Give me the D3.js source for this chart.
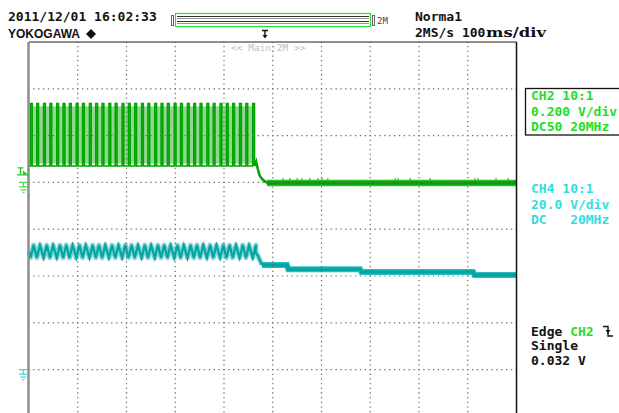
<!DOCTYPE html>
<html><head><meta charset="utf-8">
<script src="https://cdn.jsdelivr.net/npm/d3@7"></script>
<style>
html,body{margin:0;padding:0;background:#fff;overflow:hidden;}
svg{display:block;}
text{font-family:"DejaVu Sans Mono",monospace;white-space:pre;}
</style></head><body>
<svg id="c" width="619" height="413"></svg>
<script>
// ---------------- data ----------------
const timeDomainMs = [0, 1000];          // 100 ms/div x 10 div
const divDomain = [4, -4];               // 8 vertical divisions
const xGridMs = [100, 200, 300, 400, 500, 600, 700, 800, 900];
const yGridDiv = [3, 2, 1, 0, -1, -2, -3];

// CH2 (green) : 0.200 V/div, ground 1 div above centre
const ch2PosDiv = 1, ch2VoltsPerDiv = 0.2;
const ch2RiseMs = [3,16,30,43,57,70,83,97,110,124,137,150,164,177,191,204,217,231,244,258,271,284,298,311,325,338,351,365,378,392,405,418,432,445,459];
const ch2PulseLevelsV = [0.07, 0.337];           // low, high
const ch2PulseWidthMs = [3.5];
const ch2BandV = [0.08, 0.325];                   // persistence band
const ch2DropMs = [462, 466, 469, 473, 478, 484, 490];
const ch2DropV  = [0.07, 0.09, 0.06, 0.03, 0.015, 0.004, -0.003];
const ch2FlatMs = [488, 1000];
const ch2FlatV  = [-0.003, -0.003];
const ch2GlitchMs = [521,535,550,560,576,593,601,613,751,757,782,823,915,921,958,983];
const ch2TriggerV = 0.032;

// CH4 (cyan) : 20.0 V/div, ground 3 div below centre
const ch4PosDiv = -3, ch4VoltsPerDiv = 20;
const ch4ZigV = [47.8, 53.2];                     // trough, peak
const ch4TailMs = [465, 470, 474, 478, 529, 532, 679, 682, 911, 914, 1000];
const ch4TailV  = [50.0, 48.5, 46.5, 44.7, 44.7, 42.9, 42.9, 41.7, 41.7, 40.4, 40.4];

// texts
const headerDate = "2011/12/01 16:02:33";
const brand = "YOKOGAWA";
const modeText = "Norma1";
const rateText = ["2MS/s 100", "ms/div"];
const ch2Info = ["CH2 10:1", "0.200 V/div", "DC50 20MHz"];
const ch4Info = ["CH4 10:1", "20.0 V/div", "DC   20MHz"];
const trigInfo = ["Single", "0.032 V"];
const zoomLabel = "<< Main:2M >>";

// ---------------- drawing ----------------
const svg = d3.select("#c");
const x = d3.scaleLinear().domain(timeDomainMs).range([29, 516.5]);
const yDiv = d3.scaleLinear().domain(divDomain).range([42, 416.4]);
const y2 = v => yDiv(ch2PosDiv + v / ch2VoltsPerDiv);
const y4 = v => yDiv(ch4PosDiv + v / ch4VoltsPerDiv);

const GREEN = "#00a400", GREEN_L = "#8fd98f", GREEN_T = "#22dd22";
const TEAL = "#00a6a6", TEAL_L = "#7fd3d3", TEAL_T = "#33dddd";

const line = d3.line().x(d => x(d[0])).y(d => d[1]);

// ---- CH2 pulses ----
const pw = ch2PulseWidthMs[0];
svg.append("rect")
  .attr("x", x(ch2RiseMs[0])).attr("width", x(ch2RiseMs[ch2RiseMs.length-1] + pw) - x(ch2RiseMs[0]))
  .attr("y", y2(ch2BandV[1])).attr("height", y2(ch2BandV[0]) - y2(ch2BandV[1]))
  .attr("fill", GREEN_L);
const pulsePts = [[0, y2(ch2PulseLevelsV[0])]];
ch2RiseMs.forEach(r => {
  pulsePts.push([r, y2(ch2PulseLevelsV[0])], [r, y2(ch2PulseLevelsV[1])],
                [r + pw, y2(ch2PulseLevelsV[1])], [r + pw, y2(ch2PulseLevelsV[0])]);
});
svg.append("path").attr("d", line(pulsePts)).attr("fill", "none")
  .attr("stroke", GREEN).attr("stroke-width", 1.6);
// ch2 drop + flat
svg.append("path").attr("d", line(ch2DropMs.map((t, i) => [t, y2(ch2DropV[i])])))
  .attr("fill", "none").attr("stroke", GREEN).attr("stroke-width", 2.5);
svg.append("path").attr("d", line(ch2FlatMs.map((t, i) => [t, y2(ch2FlatV[i])])))
  .attr("fill", "none").attr("stroke", "#2cbb2c").attr("stroke-width", 6.5);
svg.append("path").attr("d", line(ch2FlatMs.map((t, i) => [t, y2(ch2FlatV[i])])))
  .attr("fill", "none").attr("stroke", GREEN).attr("stroke-width", 3.5);
svg.selectAll(".gl").data(ch2GlitchMs).enter().append("line")
  .attr("x1", d => x(d)).attr("x2", d => x(d))
  .attr("y1", y2(ch2FlatV[0]) - 2).attr("y2", y2(ch2FlatV[0] + 0.022))
  .attr("stroke", "#2cbb2c").attr("stroke-width", 1.2);

// ---- CH4 zigzag ----
const zig = [[0, y4((ch4ZigV[0] + ch4ZigV[1]) / 2)]];
ch2RiseMs.forEach(r => { zig.push([r, y4(ch4ZigV[0])], [r + 6.5, y4(ch4ZigV[1])]); });
ch4TailMs.forEach((t, i) => zig.push([t, y4(ch4TailV[i])]));
const zigUntil = zig.filter(p => p[0] <= ch4TailMs[3]);
svg.append("path").attr("d", line(zigUntil)).attr("fill", "none")
  .attr("stroke", TEAL_L).attr("stroke-width", 5).attr("stroke-linejoin", "round");
svg.append("path").attr("d", line(zigUntil)).attr("fill", "none")
  .attr("stroke", TEAL).attr("stroke-width", 2.2);
const tail = ch4TailMs.slice(3).map((t, i) => [t, y4(ch4TailV[i + 3])]);
svg.append("path").attr("d", line(tail)).attr("fill", "none")
  .attr("stroke", "#2cbcbc").attr("stroke-width", 6);
svg.append("path").attr("d", line(tail)).attr("fill", "none")
  .attr("stroke", TEAL).attr("stroke-width", 3.5);

// ---- grid (dotted, on top) ----
const hStep = (x(100) - x(0)) / 10, vStep = (yDiv(3) - yDiv(4)) / 10;
svg.selectAll(".hg").data(yGridDiv).enter().append("line")
  .attr("x1", x(0)).attr("x2", x(1000)).attr("y1", d => yDiv(d)).attr("y2", d => yDiv(d))
  .attr("stroke", "#6a6a6a").attr("stroke-width", 1.2)
  .attr("stroke-dasharray", `1.3 ${hStep - 1.3}`).attr("stroke-dashoffset", -hStep + 0.65);
svg.selectAll(".vg").data(xGridMs).enter().append("line")
  .attr("x1", d => x(d)).attr("x2", d => x(d)).attr("y1", yDiv(4)).attr("y2", 413)
  .attr("stroke", "#6a6a6a").attr("stroke-width", 1.2)
  .attr("stroke-dasharray", `1.3 ${vStep - 1.3}`).attr("stroke-dashoffset", -vStep + 0.65);

// ---- frame ----
svg.append("line").attr("x1", x(0)).attr("x2", x(1000)).attr("y1", yDiv(4)).attr("y2", yDiv(4))
  .attr("stroke", "#222").attr("stroke-width", 1.2);
svg.append("line").attr("x1", x(1000)).attr("x2", x(1000)).attr("y1", yDiv(4)).attr("y2", 413)
  .attr("stroke", "#111").attr("stroke-width", 1.5);
svg.append("line").attr("x1", x(0) - 0.5).attr("x2", x(0) - 0.5).attr("y1", yDiv(4)).attr("y2", 413)
  .attr("stroke", "#8a8a8a").attr("stroke-width", 2.4);

// ---- left markers ----
function ground(y0, col) {
  const g = svg.append("g").attr("stroke", col).attr("stroke-width", 1.3).attr("fill", "none");
  g.append("path").attr("d", `M19,${y0} H28 M23.5,${y0} V${y0+4.5} M19,${y0+4.5} H28 M20.5,${y0+7.5} H26.5 M22.5,${y0+10} H24.5`);
}
ground(y2(0), "#44dd44");
ground(y4(0), TEAL_T);
const ty = y2(ch2TriggerV);
const tg = svg.append("g").attr("stroke", "#22cc22").attr("stroke-width", 1.4).attr("fill", "none");
tg.append("path").attr("d", `M17,${ty} H29 M17.5,${ty-7} H23.5 M20.5,${ty-7} V${ty-0.5}`);
svg.append("path").attr("d", `M23,${ty-4.5} L28,${ty-0.5} L23,${ty-0.5} Z`).attr("fill", "#22cc22");

// ---- header ----
svg.append("text").attr("x", 8).attr("y", 21).attr("font-size", 13).attr("font-weight", "bold")
  .attr("fill", "#111").text(headerDate);
svg.append("text").attr("x", 8).attr("y", 38).attr("font-size", 12).attr("font-weight", "bold")
  .style("font-family", "'Liberation Sans',Arial,sans-serif").attr("fill", "#111").text(brand);
svg.append("path").attr("d", "M91,29 L96,34 L91,39 L86,34 Z").attr("fill", "#111");

// overview bar
svg.append("rect").attr("x", 171.5).attr("y", 15.5).attr("width", 2).attr("height", 10)
  .attr("fill", "none").attr("stroke", "#666").attr("stroke-width", 1);
svg.append("rect").attr("x", 175.5).attr("y", 13.5).attr("width", 195).attr("height", 13)
  .attr("fill", "none").attr("stroke", "#33dd33").attr("stroke-width", 1.2);
[16.5, 18.5, 21.5, 23.5].forEach((yy, i) => svg.append("line").attr("x1", 177).attr("x2", 369)
  .attr("y1", yy).attr("y2", yy).attr("stroke", i % 2 ? "#999" : "#333").attr("stroke-width", 1));
svg.append("rect").attr("x", 372.5).attr("y", 15.5).attr("width", 2).attr("height", 10)
  .attr("fill", "none").attr("stroke", "#666").attr("stroke-width", 1);
svg.append("text").attr("x", 377).attr("y", 24).attr("font-size", 9).attr("fill", "#444").text("2M");

// trigger position marker
svg.append("path").attr("d", "M262,30.5 H268 M265,30.5 V35").attr("stroke", "#111").attr("stroke-width", 1.4);
svg.append("path").attr("d", "M262.5,35 L267.5,35 L265,38.5 Z").attr("fill", "#111");
svg.append("text").attr("x", 231).attr("y", 51).attr("font-size", 9.5).attr("fill", "#bdbdbd").text(zoomLabel);

// mode / rate
svg.append("text").attr("x", 415).attr("y", 21).attr("font-size", 13).attr("font-weight", "bold")
  .attr("fill", "#111").text(modeText);
svg.append("text").attr("x", 415).attr("y", 37).attr("font-size", 13).attr("font-weight", "bold")
  .attr("fill", "#111").text(rateText[0]);
svg.append("text").attr("x", 486).attr("y", 37).attr("font-size", 12).attr("font-weight", "bold")
  .attr("textLength", 60).attr("lengthAdjust", "spacingAndGlyphs")
  .style("font-family", "'DejaVu Serif',serif").attr("fill", "#111").text(rateText[1]);

// ---- right panel ----
svg.append("rect").attr("x", 525.5).attr("y", 88.5).attr("width", 100).attr("height", 46.5)
  .attr("fill", "none").attr("stroke", "#111").attr("stroke-width", 1.3);
ch2Info.forEach((s, i) => svg.append("text").attr("x", 531).attr("y", 100 + i * 15.5)
  .attr("font-size", 13).attr("font-weight", "bold").attr("fill", GREEN_T).text(s));
ch4Info.forEach((s, i) => svg.append("text").attr("x", 531).attr("y", 193 + i * 15.5)
  .attr("font-size", 13).attr("font-weight", "bold").attr("fill", TEAL_T).text(s));
const et = svg.append("text").attr("x", 531).attr("y", 336).attr("font-size", 13).attr("font-weight", "bold").attr("fill", "#111");
et.append("tspan").text("Edge ");
et.append("tspan").attr("fill", GREEN_T).text("CH2");
svg.append("path").attr("d", "M603,326.5 H608 V336 H613").attr("fill", "none").attr("stroke", "#111").attr("stroke-width", 1.4);
svg.append("path").attr("d", "M605.5,330 L610.5,330 L608,333.5 Z").attr("fill", "#111");
trigInfo.forEach((s, i) => svg.append("text").attr("x", 531).attr("y", 350 + i * 14.5)
  .attr("font-size", 13).attr("font-weight", "bold").attr("fill", "#111").text(s));
</script>
</body></html>
